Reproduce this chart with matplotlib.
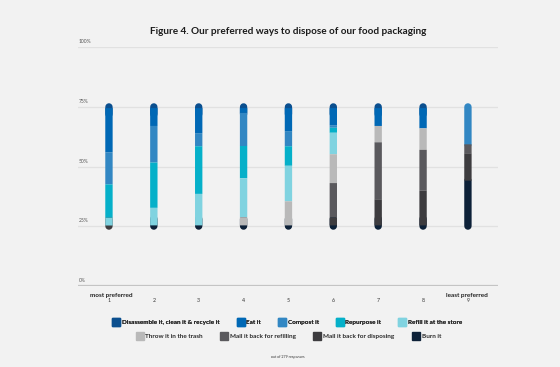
import matplotlib
matplotlib.use("Agg")
import matplotlib.pyplot as plt
from matplotlib.lines import Line2D
import numpy as np

plt.rcParams['font.family'] = ['Lato', 'DejaVu Sans']

title = "Figure 4. Our preferred ways to dispose of our food packaging"
ranks = [1, 2, 3, 4, 5, 6, 7, 8, 9]
rank_labels = ["1", "2", "3", "4", "5", "6", "7", "8", "9"]
y_ticks = [0, 25, 50, 75, 100]
y_tick_labels = ["0%", "25%", "50%", "75%", "100%"]

# options, listed from top of stack to bottom
options = ["Disassemble it, clean it & recycle it", "Eat it", "Compost it",
           "Repurpose it", "Refill it at the store", "Throw it in the trash",
           "Mail it back for refilling", "Mail it back for disposing", "Burn it"]
colors = ["#0b4f8f", "#0068b5", "#3287c3", "#05b0c9", "#80d3e0",
          "#b9b9b9", "#5a595d", "#3d3c3f", "#0d2138"]

# share of responses (%) per rank 1..9
disassemble = [1, 1, 1, 1, 1, 1, 1, 1, 0]
eat         = [37, 15, 21, 4, 19.3, 14.3, 15, 17, 0]
compost     = [27, 30.7, 11, 27.8, 12.7, 2.2, 0, 0, 31.4]
repurpose   = [28, 38, 40, 27, 16.4, 4.2, 0, 0, 0]
refill      = [6.5, 14.7, 26.4, 32.7, 29.8, 18, 0, 0, 0]
trash       = [0, 0, 0, 6.9, 20.2, 24.2, 13.7, 18, 0]
mail_refill = [0, 0, 0, 0, 0, 28.9, 47.8, 34.3, 7.5]
mail_disp   = [0.5, 0, 0, 0, 0, 6.6, 21.9, 29.1, 23]
burn        = [0, 0.6, 0.6, 0.6, 0.6, 0.6, 0.6, 0.6, 38.1]
series = [disassemble, eat, compost, repurpose, refill, trash,
          mail_refill, mail_disp, burn]

bg = "#f2f2f2"
fig = plt.figure(figsize=(5.6, 3.67), dpi=100, facecolor=bg)
ax = fig.add_axes([78/560, (367-285.7)/367, (498-78)/560, (285.7-47.3)/367])
ax.set_facecolor(bg)
ax.set_xlim(0.31, 9.67)
ax.set_ylim(0, 100)
for s in ax.spines.values():
    s.set_visible(False)
ax.set_xticks([])
ax.set_yticks([])
for t, lab in zip(y_ticks, y_tick_labels):
    if t == 0:
        ax.axhline(t, color="#c4c4c4", lw=1.6, zorder=1)
    else:
        ax.axhline(t, color="#e1e1e1", lw=0.9, zorder=1)
    ax.text(0.33, t + 1.2, lab, fontsize=3.6, color="#555555", va="bottom", ha="left")

# bars on twin axis: share 0..100 mapped to 25%..75%
ax2 = ax.twinx()
ax2.set_ylim(-50, 150)
ax2.set_xlim(ax.get_xlim())
ax2.axis("off")

lw = 5.3
for i, r in enumerate(ranks):
    vals = np.array([s[i] for s in series], dtype=float)
    order = list(range(len(options)))[::-1]
    bottoms = {}
    cum = 0.0
    for k in order:
        bottoms[k] = cum
        cum += vals[k]
    total = cum
    nz = [k for k in range(len(options)) if vals[k] > 0]
    top_k, bot_k = nz[0], nz[-1]
    # rounded end caps (extended inward, covered by the inner segments)
    ax2.plot([r, r], [total - max(vals[top_k], 6), total], color=colors[top_k],
             lw=lw, solid_capstyle="round", zorder=2, snap=False)
    ax2.plot([r, r], [0, max(vals[bot_k], 6)], color=colors[bot_k],
             lw=lw, solid_capstyle="round", zorder=2, snap=False)
    for k in nz:
        if k in (top_k, bot_k):
            continue
        ax2.plot([r, r], [bottoms[k], bottoms[k] + vals[k]], color=colors[k],
                 lw=lw, solid_capstyle="butt", zorder=3, snap=False)

# x labels
for r, lab in zip(ranks, rank_labels):
    ax.text(r, -6.2, lab, fontsize=3.8, color="#333333", ha="center", va="center")
ax.text(0.57, -4.0, "most preferred", fontsize=4.6, fontweight="bold",
        color="#222222", ha="left", va="center")
ax.text(9.45, -4.0, "least preferred", fontsize=4.6, fontweight="bold",
        color="#222222", ha="right", va="center")

fig.text(288/560, 1 - 31/367, title, fontsize=7.2, fontweight="bold",
         color="#1c1c1c", ha="center", va="center")

handles = [Line2D([], [], marker="s", linestyle="none", markersize=5.2,
                  markerfacecolor=c, markeredgecolor=c) for c in colors]
leg1 = fig.legend(handles[:5], options[:5], loc="center", ncol=5,
                  bbox_to_anchor=(288/560, 1 - 322/367), frameon=False,
                  prop={"size": 4.6, "weight": "bold"}, handlelength=0.8,
                  handletextpad=0.5, columnspacing=2.87)
leg2 = fig.legend(handles[5:], options[5:], loc="center", ncol=4,
                  bbox_to_anchor=(289/560, 1 - 336.5/367), frameon=False,
                  prop={"size": 4.6, "weight": "bold"}, handlelength=0.8,
                  handletextpad=0.5, columnspacing=2.95)
for leg in (leg1, leg2):
    for t in leg.get_texts():
        t.set_color("#2a2a2a")
fig.add_artist(leg1)

fig.text(288/560, 1 - 357/367, "out of 279 responses", fontsize=2.6,
         color="#333333", ha="center", va="center")

fig.savefig("out.png", dpi=100, facecolor=bg)
